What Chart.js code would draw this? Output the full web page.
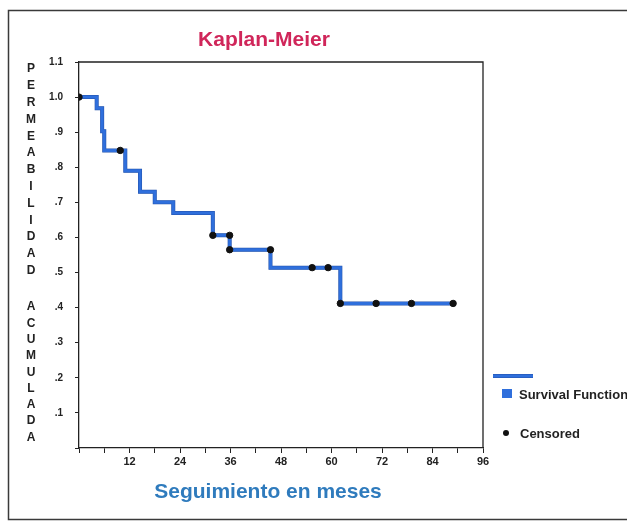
<!DOCTYPE html>
<html>
<head>
<meta charset="utf-8">
<script src="https://cdn.jsdelivr.net/npm/chart.js@4"></script>
<style>
  html, body { margin: 0; padding: 0; background: #fff; }
  #wrap { width: 627px; height: 528px; }
</style>
</head>
<body>
<div id="wrap"><canvas id="chartKM"></canvas></div>
<script>
// Kaplan-Meier steps (month of event, survival after it)
const stepMonths = [0, 4.2, 5.5, 6, 11, 14.5, 18, 22.4, 31.8, 35.8, 45.5, 62.1, 88.9];
const stepSurvival = [1.0, 0.968, 0.903, 0.848, 0.79, 0.73, 0.70, 0.67, 0.606, 0.565, 0.514, 0.412, 0.412];

// censored observations
const censMonths = [0, 9.8, 31.8, 35.8, 35.8, 45.5, 55.4, 59.2, 62.1, 70.6, 79, 88.9];
const censSurvival = [1.0, 0.848, 0.606, 0.606, 0.565, 0.565, 0.514, 0.514, 0.412, 0.412, 0.412, 0.412];

const xTicks = [12, 24, 36, 48, 60, 72, 84, 96];

const FONT = "'Liberation Sans', Arial, Helvetica, sans-serif";

const stepPoints = stepMonths.map((m, i) => ({ x: m, y: stepSurvival[i] }));
const censPoints = censMonths.map((m, i) => ({ x: m, y: censSurvival[i] }));

// frame, title, vertical y label and legend
const decorations = {
    id: 'decorations',
    beforeDraw: (chart) => {
        const ctx = chart.ctx;
        ctx.save();
        ctx.fillStyle = '#fff';
        ctx.fillRect(0, 0, chart.width, chart.height);
        ctx.strokeStyle = '#3a3a3a';
        ctx.lineWidth = 1.5;
        ctx.strokeRect(8.5, 10.5, 640, 509);
        ctx.restore();
    },
    afterDraw: (chart) => {
        const ctx = chart.ctx;
        const area = chart.chartArea;
        ctx.save();

        // box around the plot
        ctx.strokeStyle = '#222';
        ctx.lineWidth = 1.3;
        ctx.beginPath();
        ctx.moveTo(area.left, area.top);
        ctx.lineTo(area.right, area.top);
        ctx.lineTo(area.right, area.bottom);
        ctx.stroke();

        // title
        ctx.fillStyle = '#d0265a';
        ctx.font = 'bold 21px ' + FONT;
        ctx.textAlign = 'center';
        ctx.textBaseline = 'middle';
        ctx.fillText('Kaplan-Meier', 264, 40);

        // x axis title
        ctx.fillStyle = '#2f7bbd';
        ctx.font = 'bold 21px ' + FONT;
        ctx.fillText('Seguimiento en meses', 268, 492);

        // y axis title, one letter per line
        ctx.fillStyle = '#222';
        ctx.font = 'bold 12px ' + FONT;
        const word1 = 'PERMEABILIDAD';
        for (let i = 0; i < word1.length; i++) {
            ctx.fillText(word1[i], 31, 69 + i * 16.8);
        }
        const word2 = 'ACUMULADA';
        for (let i = 0; i < word2.length; i++) {
            ctx.fillText(word2[i], 31, 307 + i * 16.3);
        }

        // legend
        ctx.strokeStyle = '#2350a8';
        ctx.lineWidth = 4;
        ctx.beginPath();
        ctx.moveTo(493, 376);
        ctx.lineTo(533, 376);
        ctx.stroke();
        ctx.strokeStyle = '#2f6fdc';
        ctx.lineWidth = 3;
        ctx.stroke();
        ctx.fillStyle = '#2f6fdc';
        ctx.fillRect(502, 389, 10, 9);
        ctx.fillStyle = '#111';
        ctx.beginPath();
        ctx.arc(506, 433, 3, 0, Math.PI * 2);
        ctx.fill();
        ctx.fillStyle = '#222';
        ctx.font = 'bold 13px ' + FONT;
        ctx.textAlign = 'left';
        ctx.fillText('Survival Function', 519, 395);
        ctx.fillText('Censored', 520, 434);

        ctx.restore();
    }
};

const configKM = {
    type: 'line',
    data: {
        datasets: [{
            label: 'Censored',
            type: 'scatter',
            data: censPoints,
            pointRadius: 3.2,
            pointBackgroundColor: '#111',
            pointBorderColor: '#111',
            showLine: false,
            order: 0
        }, {
            label: 'Survival Function',
            data: stepPoints,
            stepped: true,
            borderColor: '#2f6fdc',
            borderWidth: 3,
            pointRadius: 0,
            fill: false,
            order: 1
        }, {
            label: 'Survival outline',
            data: stepPoints,
            stepped: true,
            borderColor: '#2350a8',
            borderWidth: 4,
            pointRadius: 0,
            fill: false,
            order: 2
        }]
    },
    options: {
        responsive: true,
        maintainAspectRatio: false,
        animation: false,
        events: [],
        layout: {
            padding: { left: 39, top: 62, right: 144, bottom: 54 }
        },
        plugins: {
            legend: { display: false },
            title: { display: false },
            tooltip: { enabled: false }
        },
        scales: {
            x: {
                type: 'linear',
                min: 0,
                max: 96,
                afterBuildTicks: (scale) => {
                    scale.ticks = [];
                    for (let v = 0; v <= 96; v += 6) scale.ticks.push({ value: v });
                },
                afterFit: (scale) => { scale.height = 26; },
                ticks: {
                    autoSkip: false,
                    maxRotation: 0,
                    padding: 2,
                    color: '#222',
                    font: { family: FONT, size: 11, weight: 'bold' },
                    callback: (v) => xTicks.includes(v) ? String(v) : ''
                },
                grid: {
                    drawOnChartArea: false,
                    drawTicks: true,
                    tickLength: 5,
                    tickColor: '#222'
                },
                border: { color: '#222', width: 1.3 }
            },
            y: {
                min: 0,
                max: 1.1,
                afterBuildTicks: (scale) => {
                    scale.ticks = [];
                    for (let i = 0; i <= 11; i++) scale.ticks.push({ value: i / 10 });
                },
                afterFit: (scale) => { scale.width = 40; },
                ticks: {
                    autoSkip: false,
                    padding: 12,
                    color: '#222',
                    font: { family: FONT, size: 10, weight: 'bold' },
                    callback: (v) => {
                        const k = Math.round(v * 10);
                        if (k === 0) return '';
                        if (k >= 10) return (k / 10).toFixed(1);
                        return '.' + k;
                    }
                },
                grid: {
                    drawOnChartArea: false,
                    drawTicks: true,
                    tickLength: 4,
                    tickColor: '#222'
                },
                border: { color: '#222', width: 1.3 }
            }
        }
    },
    plugins: [decorations]
};

let chartKM = new Chart(document.getElementById('chartKM'), configKM);
</script>
</body>
</html>
